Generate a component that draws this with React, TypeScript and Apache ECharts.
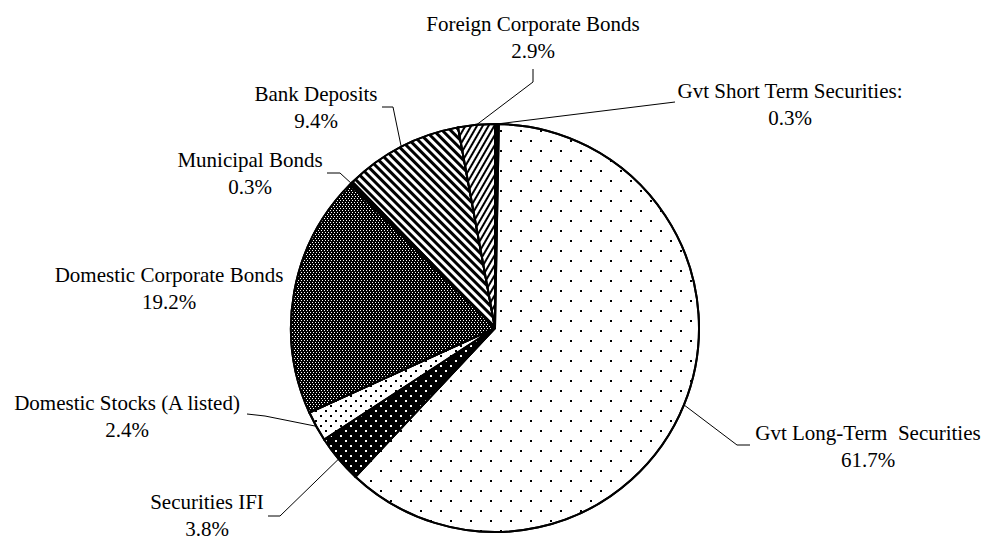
import React, { useEffect, useRef } from "react";
import * as echarts from "echarts";

// ---- data ----
const categories = [
  "Gvt Short Term Securities:",
  "Gvt Long-Term  Securities",
  "Securities IFI",
  "Domestic Stocks (A listed)",
  "Domestic Corporate Bonds",
  "Municipal Bonds",
  "Bank Deposits",
  "Foreign Corporate Bonds",
];
const shares = [0.3, 61.7, 3.8, 2.4, 19.2, 0.3, 9.4, 2.9];

// ---- styles (fills / patterns) ----
const fills: any[] = [
  { color: "#000" },
  {
    color: "#fff",
    decal: {
      color: "#000",
      symbol: "rect",
      symbolSize: 1,
      dashArrayX: [[2, 18], [0, 10, 2, 8]],
      dashArrayY: [2, 8],
    },
  },
  {
    color: "#000",
    decal: {
      color: "#fff",
      symbol: "rect",
      symbolSize: 1,
      dashArrayX: [[2, 8], [0, 5, 2, 3]],
      dashArrayY: [2, 3],
    },
  },
  {
    color: "#fff",
    decal: {
      color: "#000",
      symbol: "rect",
      symbolSize: 1,
      dashArrayX: [[2, 8], [0, 5, 2, 3]],
      dashArrayY: [2, 3],
    },
  },
  {
    color: "#000",
    decal: {
      color: "#fff",
      symbol: "rect",
      symbolSize: 1,
      dashArrayX: [[1, 2], [0, 1, 1, 1]],
      dashArrayY: [1, 1],
    },
  },
  { color: "#000" },
  {
    color: "#fff",
    decal: {
      color: "#000",
      symbol: "rect",
      symbolSize: 1,
      dashArrayX: [1, 0],
      dashArrayY: [3, 3],
      rotation: Math.PI / 4,
    },
  },
  {
    color: "#fff",
    decal: {
      color: "#000",
      symbol: "rect",
      symbolSize: 1,
      dashArrayX: [1, 0],
      dashArrayY: [2, 3],
      rotation: -Math.PI / 3,
    },
  },
];

// ---- label placement (center x, middle y, elbow, end) ----
const labelPlaces: any[] = [
  { x: 790, y: 104, elbow: [675, 102], end: [675, 102] },
  { x: 868, y: 446, elbow: [737, 445], end: [750, 445] },
  { x: 207, y: 515, elbow: [280, 516], end: [268, 516] },
  { x: 127, y: 416, elbow: [265, 416], end: [247, 414] },
  { x: 169, y: 288, elbow: null, end: null },
  { x: 250, y: 173, elbow: [340, 173], end: [327, 173] },
  { x: 316, y: 107, elbow: [393, 107], end: [382, 107] },
  { x: 533, y: 37, elbow: [533, 82], end: [533, 69] },
];

export default function App() {
  const ref = useRef<HTMLDivElement>(null);
  useEffect(() => {
    if (!ref.current) return;
    const chart = echarts.init(ref.current, null, { renderer: "svg" });
    const data = categories.map((name, i) => ({
      name,
      value: shares[i],
      itemStyle: {
        color: fills[i].color,
        decal: fills[i].decal,
        borderColor: "#000",
        borderWidth: 2,
      },
      labelLine: { show: labelPlaces[i].elbow !== null },
    }));
    chart.setOption({
      animation: false,
      backgroundColor: "#fff",
      series: [
        {
          type: "pie",
          center: [495, 328],
          radius: 204,
          startAngle: 90,
          clockwise: true,
          avoidLabelOverlap: false,
          data,
          label: {
            show: true,
            position: "outside",
            fontFamily: "'Liberation Serif', 'Times New Roman', serif",
            fontSize: 21,
            lineHeight: 27,
            color: "#000",
            formatter: (p: any) => `${p.name}\n${Number(p.value).toFixed(1)}%`,
          },
          labelLine: {
            show: true,
            lineStyle: { color: "#000", width: 1 },
          },
          emphasis: { disabled: true },
          labelLayout: (params: any) => {
            const pl = labelPlaces[params.dataIndex];
            const res: any = {
              x: pl.x,
              y: pl.y,
              align: "center",
              verticalAlign: "middle",
            };
            if (pl.elbow && params.labelLinePoints) {
              res.labelLinePoints = [params.labelLinePoints[0], pl.elbow, pl.end];
            }
            return res;
          },
        },
      ],
    });
    return () => chart.dispose();
  }, []);
  return (
    <div
      ref={ref}
      style={{ position: "fixed", left: 0, top: 0, width: 989, height: 539, background: "#fff" }}
    />
  );
}
